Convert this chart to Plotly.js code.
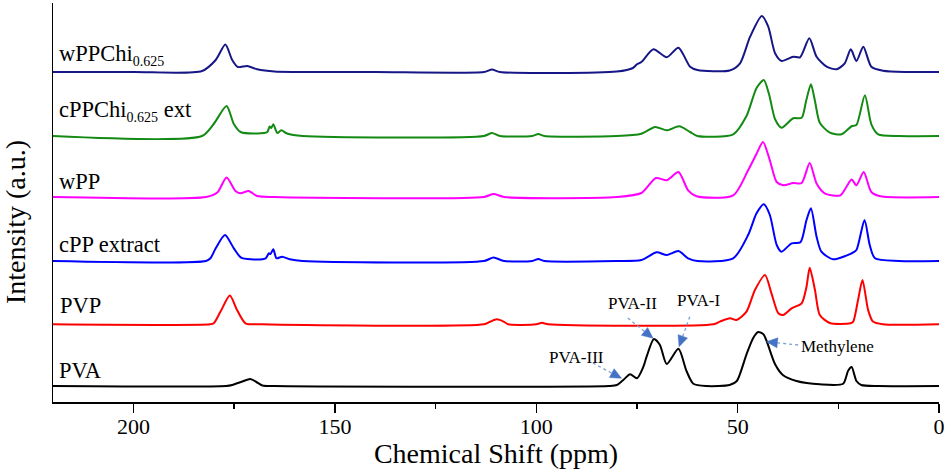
<!DOCTYPE html>
<html>
<head>
<meta charset="utf-8">
<script src="https://cdn.plot.ly/plotly-3.0.1.min.js"></script>
<style>html,body{margin:0;padding:0;background:#fff;}#chart{width:946px;height:469px;}</style>
</head>
<body>
<div id="chart"></div>
<script>
// ---- Data ----
const seriesNames = ["wPPChi<sub><span style=\"font-size:14px\">0.625</span></sub>", "cPPChi<sub><span style=\"font-size:14px\">0.625</span></sub> ext", "wPP", "cPP extract", "PVP", "PVA"];
const seriesColors = ["#161686", "#138a13", "#ff00ff", "#0000ff", "#ff0000", "#000000"];
const offsets = [330, 266, 205, 141, 77.7, 16];

const ppm_wPPChi = [220,200,183,179.6,177.2,175.5,174.1,171.8,169.3,165,140,113,111,109,80,76,75,73.9,70.9,67.6,64.7,61.8,60,52,49.4,46.9,44,42.4,40.7,39.1,36.2,34.5,32.2,30.4,27.9,25.4,23.4,21.9,20.5,18.8,16.8,13.9,8,0];
const int_wPPChi = [0,0,1,12,27.4,12,5,6,2.7,0.5,0,0,2.5,0,0.5,4,7.7,10,22.7,14.7,24.3,5.3,2,1.5,8.7,35.3,56,45.3,18.7,11,15.3,14.7,33.7,15.3,5.3,2.7,8.7,22.7,11,25.3,5.3,1.3,0,0];

const ppm_cPPChi = [220,183,180.1,176.9,175.1,173.4,169.3,166.8,166.2,165.8,165.3,164.3,163.3,161.9,158,113,111,109,101,99.5,98,80,73.9,70.5,67.6,64.5,61.8,60,51.1,47.8,45.3,43.5,42.2,40.7,39.1,36.2,34.1,33,31.8,30.8,29.6,27.1,24.2,21.6,20.5,18.4,16.8,15.1,10,0];
const int_cPPChi = [0,0,12,30,12,4,2.5,4,9.5,8,11.7,3,5.7,2.5,0,0,3,0,0,2,0,0,2.3,9,5.7,9.7,4,0,1.7,20,48,56,41.7,16.7,8.3,17.7,18.3,35,51.7,35,13.3,3.3,1.7,10,11,40.7,11.7,1.7,0,0];

const ppm_wPP = [220,182,179.2,176.9,174.7,173.5,171.4,169.3,165,113,110.6,108,80,73.9,70.3,67.6,64.7,62.3,60.2,51.1,47.4,45.3,43.7,42,40.3,38.6,36.2,34.1,32.1,30.4,28.3,24.5,23,21.7,20.5,18.7,16.8,14.5,0];
const int_wPP = [0,0,4.4,19.4,6,3.7,6,1,0,0,3,0,0,4,19,16.7,25,6.7,0.7,1.7,26.7,43.3,55,36.7,15,11.7,14,14,34,13.4,3.4,1.7,10,17.4,11.7,25,5,0.7,0];

const ppm_cPP = [220,182,180.9,179.6,177.3,175.1,173.4,170.9,167.2,166.4,166,165.3,164.5,163.1,161.2,158,113,110.6,108,101,99.5,98,80,73.9,70.1,67.6,64.7,62.3,60,51.1,47.4,45.3,43.5,42,40.3,39.1,36.6,34.4,32.9,31.8,30.4,29.2,26.3,21.7,20.5,18.5,17.2,15.9,10,0];
const int_cPP = [0,0,2.7,12.7,26,12.7,3.7,1.7,2.7,7.7,7,11.7,2.7,4.3,1.7,0,0,3.5,0,0,2,0,0,1,8.7,6,10,2.7,0,2.7,26,47.7,56.7,46,16,9.3,17.7,18.7,41,52.7,24.3,9.3,1.7,7.7,11,41,16,2.7,0,0];

const ppm_PVP = [220,181,180.1,178.4,176.1,174.3,172.2,168,113,111.5,109.8,108,107,100,98.6,97,56,54.4,51.9,50.3,47.8,45.7,43.2,41.6,39.9,38.7,36.6,34.1,32.9,32.1,30.8,29.6,27.1,22,21.3,20.1,19,17.6,16.4,14,0];
const int_PVP = [0,0,1,12.7,28.7,14.3,1,0,0,2.5,5,2.5,0,0,1.5,0,0,2.7,6,4.3,12.7,34.3,49.3,31,11,9.3,16,21,37.6,56.6,34.3,9.3,1.3,1,2.7,24.3,44.3,14.3,2.7,0,0];

const ppm_PVA = [220,177,175.5,173,171,169.5,168,165,82,80,78.4,76.7,75,73.4,72.6,70.8,69.3,67.6,64.7,62.7,61,57.7,52,50.2,47.8,46.1,44.9,43.6,42.8,40.7,38.7,35.4,29.6,23.8,22.6,21.7,20.5,19.3,15,0];
const int_PVA = [0,0,1,4.5,7,4,0.5,0,0,1,6,11.7,7.7,19.3,29.3,47,41,22,37.2,15,2.3,0,1,5,31.7,48.3,54,51.7,45,21.7,10.7,5,1.7,2.3,15,19,5,1,0,0];

const xTickVals = [200, 150, 100, 50, 0];
const xTickText = ["200", "150", "100", "50", "0"];

const peakLabels = ["PVA-III", "PVA-II", "PVA-I", "Methylene"];

// ---- Build chart ----
const ppmSets = [ppm_wPPChi, ppm_cPPChi, ppm_wPP, ppm_cPP, ppm_PVP, ppm_PVA];
const intSets = [int_wPPChi, int_cPPChi, int_wPP, int_cPP, int_PVP, int_PVA];

// plot-area geometry (px) used only for placing text / arrows
const X0 = 53, X1 = 939.3, Y0 = 3, Y1 = 402;
const ppmPerPx = 220 / (X1 - X0);
const px2x = px => (X1 - px) * ppmPerPx;
const py2y = py => Y1 - py;

const traces = ppmSets.map((xs, i) => ({
  x: xs,
  y: intSets[i].map(v => v + offsets[i]),
  type: 'scatter',
  mode: 'lines',
  line: {color: seriesColors[i], width: 2, shape: 'spline', smoothing: 0.7},
  hoverinfo: 'skip',
  showlegend: false
}));

const serif = "Liberation Serif";
const labelY = [55, 111, 181, 244, 305, 370];
const labelX = [57, 57, 57, 57, 58, 57];
const annotations = seriesNames.map((t, i) => ({
  text: t, x: px2x(labelX[i]), y: py2y(labelY[i]), xref: 'x', yref: 'y',
  xanchor: 'left', yanchor: 'middle', showarrow: false,
  font: {family: serif, size: 22.5, color: '#000'}
}));

// peak label texts (centres in px)
const peakTextPos = [[576.7, 357.3], [632.7, 303.3], [698.3, 300], [837.5, 346.7]];
peakLabels.forEach((t, i) => {
  annotations.push({
    text: t, x: px2x(peakTextPos[i][0]), y: py2y(peakTextPos[i][1]), xref: 'x', yref: 'y',
    xanchor: 'center', yanchor: 'middle', showarrow: false,
    font: {family: serif, size: 17, color: '#000'}
  });
});

// arrows: tail -> head (px); dashed shaft + filled triangular head
const arrows = [[593, 363, 621.7, 378.3], [628, 318, 653.3, 338.3], [690, 316.7, 679.3, 346.7], [798.3, 345, 766.7, 341.7]];
const shapes = [];
arrows.forEach(a => {
  const [tx, ty, hx, hy] = a;
  const dx = hx - tx, dy = hy - ty, L = Math.hypot(dx, dy);
  const ux = dx / L, uy = dy / L;
  const hl = 11, hw = 5;
  const bx = hx - ux * hl, by = hy - uy * hl;
  shapes.push({type: 'line', xref: 'x', yref: 'y',
    x0: px2x(tx), y0: py2y(ty), x1: px2x(bx), y1: py2y(by),
    line: {color: '#7f9fd6', width: 1.3, dash: 'dot'}});
  const p1 = [bx - uy * hw, by + ux * hw], p2 = [bx + uy * hw, by - ux * hw];
  shapes.push({type: 'path', xref: 'x', yref: 'y',
    path: `M ${px2x(hx)},${py2y(hy)} L ${px2x(p1[0])},${py2y(p1[1])} L ${px2x(p2[0])},${py2y(p2[1])} Z`,
    fillcolor: '#4472c4', line: {color: '#4472c4', width: 0.5}});
});

// y title as annotation
annotations.push({
  text: 'Intensity (a.u.)', xref: 'paper', yref: 'paper',
  x: (15 - X0) / (X1 - X0), y: (Y1 - 222) / (Y1 - Y0), xanchor: 'center', yanchor: 'middle',
  textangle: -90, showarrow: false, font: {family: serif, size: 28, color: '#000'}
});

const layout = {
  width: 946, height: 469,
  margin: {l: X0, r: 946 - X1, t: Y0, b: 469 - Y1},
  paper_bgcolor: '#fff', plot_bgcolor: '#fff',
  font: {family: serif, color: '#000'},
  xaxis: {
    range: [220, 0], showgrid: false, zeroline: false,
    showline: true, linecolor: '#000', linewidth: 1.5,
    ticks: 'outside', ticklen: 9, tickwidth: 1.5, tickcolor: '#000',
    tickvals: xTickVals, ticktext: xTickText,
    ticklabelstandoff: -5,
    tickfont: {family: serif, size: 22, color: '#000'},
    minor: {tickvals: [175, 125, 75, 25], ticks: 'outside', ticklen: 5, tickwidth: 1.5, tickcolor: '#000'},
    title: {text: 'Chemical Shift (ppm)', font: {family: serif, size: 28, color: '#000'}, standoff: 6}
  },
  yaxis: {
    range: [0, Y1 - Y0], showgrid: false, zeroline: false,
    showline: true, linecolor: '#000', linewidth: 1.5,
    ticks: '', showticklabels: false
  },
  shapes: shapes,
  annotations: annotations
};

Plotly.newPlot('chart', traces, layout, {displayModeBar: false, staticPlot: true});
</script>
</body>
</html>
